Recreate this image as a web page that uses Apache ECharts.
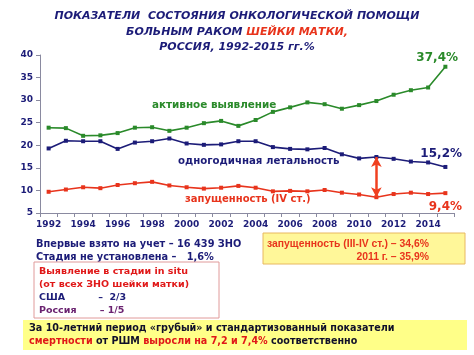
<!DOCTYPE html>
<html><head><meta charset="utf-8">
<script src="https://cdn.jsdelivr.net/npm/echarts@6/dist/echarts.min.js"></script>
<style>html,body{margin:0;padding:0;background:#fff}#c{width:474px;height:355px}</style>
</head><body><div id="c"></div>
<script>
const years = ['1992','1993','1994','1995','1996','1997','1998','1999','2000','2001','2002','2003','2004','2005','2006','2007','2008','2009','2010','2011','2012','2013','2014','2015'];
const activeDetection = [23.9,23.8,22.1,22.2,22.7,23.9,24.0,23.2,23.9,24.9,25.4,24.3,25.6,27.4,28.4,29.5,29.1,28.1,28.9,29.8,31.2,32.2,32.8,37.4];
const oneYearMortality = [19.3,21.0,20.9,20.9,19.2,20.6,20.9,21.5,20.4,20.1,20.2,20.9,20.9,19.6,19.2,19.1,19.4,18.0,17.1,17.4,17.0,16.4,16.2,15.2];
const advancedStage = [9.7,10.2,10.7,10.5,11.2,11.6,11.9,11.1,10.7,10.4,10.6,11.0,10.6,9.8,9.9,9.8,10.1,9.5,9.1,8.5,9.2,9.5,9.2,9.4];
const yTicks = [5,10,15,20,25,30,35,40];

const NAVY='#1c1c78', GREEN='#2a8a2a', RED='#e8341c', FONT='DejaVu Sans', ARIAL='Liberation Sans';
const chart = echarts.init(document.getElementById('c'), null, {renderer:'canvas'});
function txt(x,y,text,fill,size,extra,fam){return {type:'text',x:x,y:y,style:Object.assign({text:text,fill:fill,font:'bold '+size+'px '+(fam||FONT),textVerticalAlign:'middle'},extra||{})};}
const TF='italic bold 11px '+FONT;
const graphic = [
  {type:'text',x:237,y:16,style:{text:'ПОКАЗАТЕЛИ  СОСТОЯНИЯ ОНКОЛОГИЧЕСКОЙ ПОМОЩИ',fill:NAVY,font:TF,textAlign:'center',textVerticalAlign:'middle'}},
  {type:'text',x:237,y:32,style:{rich:{a:{fill:NAVY,font:TF},b:{fill:RED,font:TF}},text:'{a|БОЛЬНЫМ РАКОМ }{b|ШЕЙКИ МАТКИ,}',textAlign:'center',textVerticalAlign:'middle'}},
  {type:'text',x:237,y:47,style:{text:'РОССИЯ, 1992-2015 гг.%',fill:NAVY,font:TF,textAlign:'center',textVerticalAlign:'middle'}},
  txt(458,58,'37,4%',GREEN,12,{textAlign:'right'}),
  txt(152,105,'активное выявление',GREEN,10.4),
  txt(178,161,'одногодичная летальность',NAVY,10.2),
  txt(462,154,'15,2%',NAVY,12,{textAlign:'right'}),
  txt(185,199,'запущенность (IV ст.)',RED,10),
  txt(462,207,'9,4%',RED,12,{textAlign:'right'}),
  txt(36,244,'Впервые взято на учет – 16 439 ЗНО',NAVY,9.8),
  txt(36,257,'Стадия не установлена –   1,6%',NAVY,9.8),
  {type:'rect',shape:{x:34,y:262,width:185,height:56},style:{fill:'#fff',stroke:'#e09a9a',lineWidth:1}},
  txt(39,272,'Выявление в стадии in situ','#e01818',9.5),
  txt(39,285,'(от всех ЗНО шейки матки)','#e01818',9.5),
  txt(39,298,'США          –  2/3',NAVY,9.5),
  txt(39,311,'Россия       – 1/5','#6a2270',9.5),
  {type:'rect',shape:{x:263,y:233,width:202,height:31},style:{fill:'#fff799',stroke:'#e8b860',lineWidth:1}},
  txt(267,244,'запущенность (III-IV ст.) – 34,6%',RED,10.4,{},ARIAL),
  txt(429,257,'2011 г. – 35,9%',RED,10.4,{textAlign:'right'},ARIAL),
  {type:'rect',shape:{x:23,y:320,width:444,height:30},style:{fill:'#ffff88',stroke:null}},
  txt(29,328,'За 10-летний период «грубый» и стандартизованный показатели','#10102a',9.6),
  {type:'text',x:29,y:341,style:{rich:{r:{fill:'#e01818',font:'bold 9.6px '+FONT},k:{fill:'#10102a',font:'bold 9.6px '+FONT}},text:'{r|смертности}{k| от РШМ }{r|выросли на 7,2 и 7,4%}{k| соответственно}',textVerticalAlign:'middle'}}
];
chart.setOption({
  animation:false,
  grid:{left:40,right:20,top:55,bottom:142},
  xAxis:{type:'category',data:years,boundaryGap:true,
    axisLine:{lineStyle:{color:'#8a8aa0',width:1}},
    axisTick:{show:true,interval:0,length:4,lineStyle:{color:'#8a8aa0'}},
    axisLabel:{interval:1,color:NAVY,fontFamily:FONT,fontWeight:'bold',fontSize:9,margin:7}},
  yAxis:{type:'value',min:yTicks[0],max:yTicks[yTicks.length-1],interval:5,
    splitLine:{show:false},
    axisLine:{show:true,lineStyle:{color:'#8a8aa0',width:1}},
    axisTick:{show:true,length:4,lineStyle:{color:'#8a8aa0'}},
    axisLabel:{color:NAVY,fontFamily:FONT,fontWeight:'bold',fontSize:9,margin:7}},
  series:[
    {type:'line',data:activeDetection,color:GREEN,symbol:'rect',symbolSize:4,lineStyle:{width:1.6,color:GREEN},itemStyle:{color:GREEN}},
    {type:'line',data:oneYearMortality,color:NAVY,symbol:'rect',symbolSize:4,lineStyle:{width:1.6,color:NAVY},itemStyle:{color:NAVY},
      markLine:{silent:true,symbol:['arrow','arrow'],symbolSize:[8,10],label:{show:false},
        lineStyle:{color:'#f04020',width:2.5,type:'solid'},
        data:[[{coord:['2011',oneYearMortality[19]]},{coord:['2011',advancedStage[19]]}]]}},
    {type:'line',data:advancedStage,color:RED,symbol:'rect',symbolSize:4,lineStyle:{width:1.6,color:RED},itemStyle:{color:RED}}
  ],
  graphic:graphic
});
</script></body></html>
